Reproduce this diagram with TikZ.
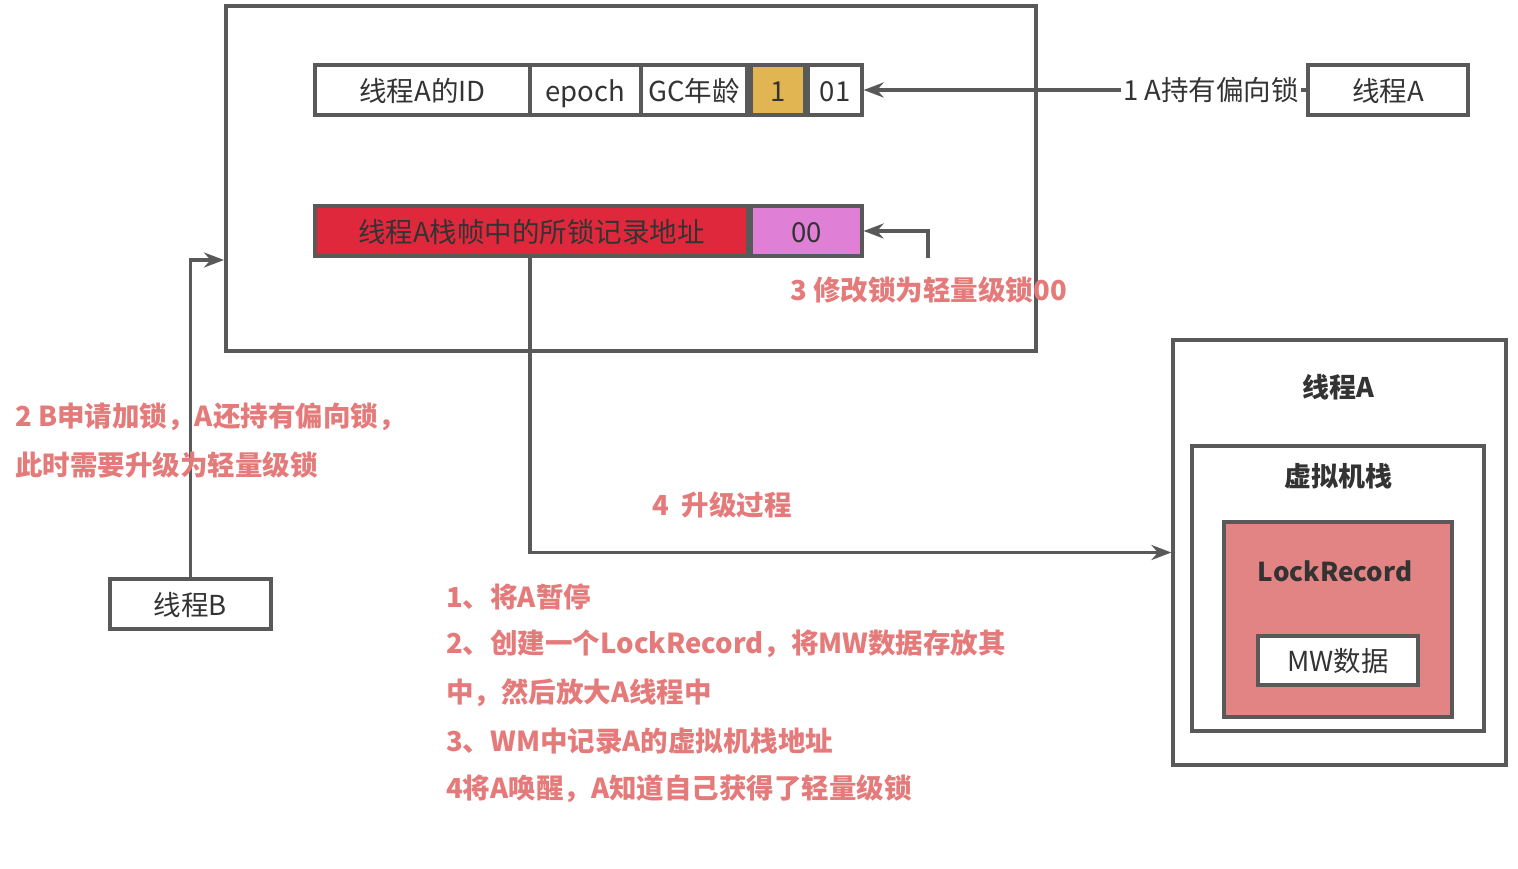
\documentclass[tikz,border=0pt]{standalone}
\usepackage{fontspec}
\setmainfont{Noto Sans CJK SC}
\usetikzlibrary{arrows.meta}
\definecolor{lc}{HTML}{595959}
\definecolor{txt}{HTML}{333333}
\definecolor{redc}{HTML}{E0283C}
\definecolor{pinkc}{HTML}{E07FD6}
\definecolor{goldc}{HTML}{E0B552}
\definecolor{lrc}{HTML}{E38484}
\definecolor{note}{HTML}{E57A7A}
\tikzset{
  box/.style={draw=lc, line width=3.2pt, rectangle, inner sep=0pt, text=txt,
    text height=27pt, text depth=5pt,
    font=\fontsize{27.5}{32}\selectfont},
  conn/.style={draw=lc, line width=3.2pt, -{Stealth[length=20pt,width=15pt]}},
  notetxt/.style={text=note, font=\bfseries\fontsize{27.5}{32}\selectfont, inner sep=0pt},
  boldlab/.style={text=txt, font=\bfseries\fontsize{27}{32}\selectfont, inner sep=0pt}
}
\begin{document}
\begin{tikzpicture}[x=1pt,y=-1pt]
\useasboundingbox (0,0) rectangle (1518,868);
% big outer box
\node[box, minimum width=810, minimum height=345] (outer) at (631,178.5) {};
% row 1
\node[box, minimum width=215, minimum height=50] (cid) at (422.5,90) {线程A的ID};
\node[box, minimum width=111, minimum height=50] (cep) at (585.5,90) {epoch};
\node[box, minimum width=106, minimum height=50] (cgc) at (694,90) {GC年龄};
\node[box, fill=goldc, minimum width=54, minimum height=50] (c1) at (778,90) {1};
\node[box, minimum width=54, minimum height=50] (c01) at (835,90) {01};
% row 2
\node[box, fill=redc, minimum width=433, minimum height=50] (cred) at (531.5,231) {线程A栈帧中的所锁记录地址};
\node[box, fill=pinkc, minimum width=111, minimum height=50] (c00) at (806.5,231) {00};
% thread boxes
\node[box, minimum width=160, minimum height=50] (ta) at (1388,90) {线程A};
\node[box, minimum width=161, minimum height=50] (tb) at (190.5,604) {线程B};
% right group
\node[box, minimum width=333, minimum height=425] (rb) at (1339.5,552.5) {};
\node[boldlab] (rbl) at (1338,387) {线程A};
\node[box, minimum width=292, minimum height=285] (vm) at (1338,588.5) {};
\node[boldlab] (vml) at (1338,476) {虚拟机栈};
\node[box, fill=lrc, minimum width=228, minimum height=195] (lr) at (1338,619.5) {};
\node[boldlab, font=\bfseries\fontsize{26}{30}\selectfont] (lrl) at (1335,571) {LockRecord};
\node[box, fill=white, minimum width=160, minimum height=49] (mw) at (1338,660.5) {MW数据};
% connector 1
\draw[conn] (ta.west) -- (c01.east);
\node[fill=white, inner sep=2pt, text=txt, font=\fontsize{27.5}{32}\selectfont] (l1) at (1211,90) {1 A持有偏向锁};
% connector 3
\coordinate (s3) at (928,258);
\draw[conn] (s3) |- (c00.east);
\node[notetxt, anchor=west] (l3) at (790,290) {3 修改锁为轻量级锁00};
% connector 2
\coordinate (e2) at (224,260);
\draw[conn] (tb.north) |- (e2);
\node[notetxt, anchor=west] (l2a) at (15,417) {2 B申请加锁，A还持有偏向锁，};
\node[notetxt, anchor=west] (l2b) at (15,465) {此时需要升级为轻量级锁};
% connector 4
\coordinate (s4) at (530,256);
\draw[conn] (s4) |- (rb.west);
\node[notetxt, anchor=west] (l4) at (652,505) {4\ \ 升级过程};
% steps
\node[notetxt, anchor=west] (p1) at (446,597) {1、将A暂停};
\node[notetxt, anchor=west] (p2) at (446,644) {2、创建一个LockRecord，将MW数据存放其};
\node[notetxt, anchor=west] (p3) at (446,693) {中，然后放大A线程中};
\node[notetxt, anchor=west] (p4) at (446,741) {3、WM中记录A的虚拟机栈地址};
\node[notetxt, anchor=west] (p5) at (446,789) {4将A唤醒，A知道自己获得了轻量级锁};
\end{tikzpicture}
\end{document}
